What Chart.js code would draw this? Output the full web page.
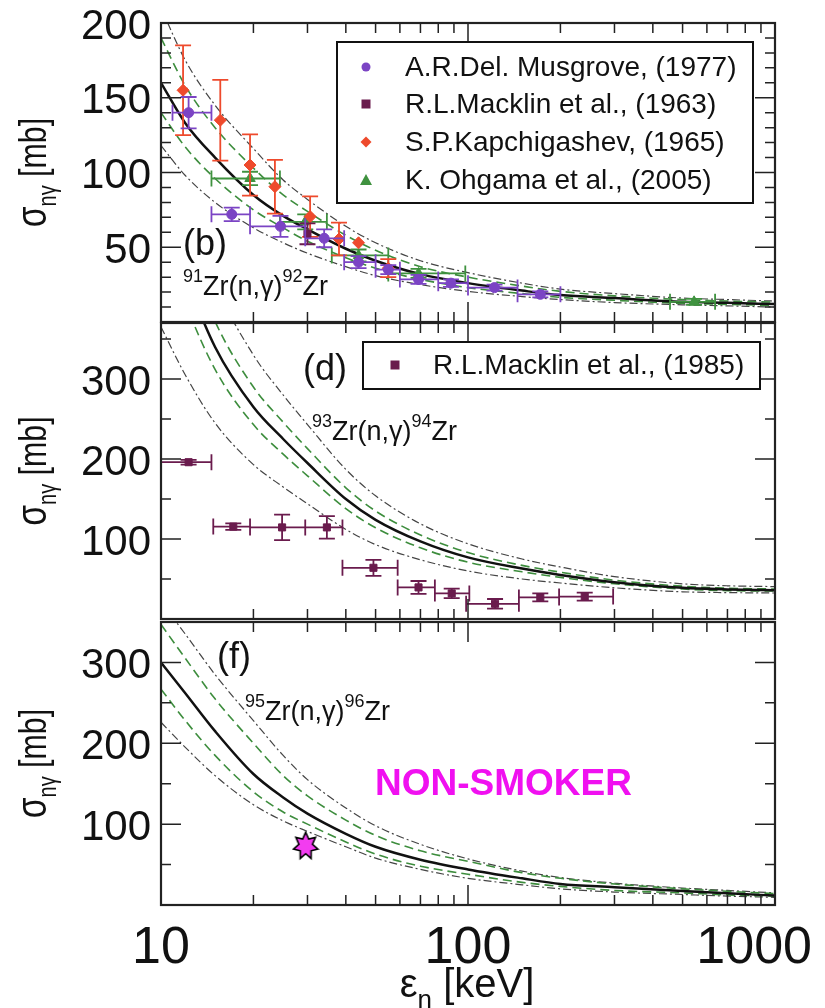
<!DOCTYPE html>
<html>
<head>
<meta charset="utf-8">
<script src="https://cdn.jsdelivr.net/npm/chart.js@4.4.0/dist/chart.umd.min.js"></script>
<style>
  body { margin: 0; background: #fff; width: 825px; height: 1008px; position: relative; overflow: hidden; }
  canvas { position: absolute; left: 0; }
</style>
</head>
<body>
<canvas id="panelB" width="825" height="330" style="top:0px"></canvas>
<canvas id="panelD" width="825" height="316" style="top:313px"></canvas>
<canvas id="panelF" width="825" height="399" style="top:609px"></canvas>
<script>
const FONT = "'Liberation Sans', Arial, Helvetica, sans-serif";

// shared energy grid for the model curves (keV)
const energies = [10, 12, 15, 20, 25, 30, 40, 50, 70, 100, 150, 200, 300, 500, 700, 1000];
const xMajorTicks = [10, 100, 1000];
const xMinorTicks = [20, 30, 40, 50, 60, 70, 80, 90, 200, 300, 400, 500, 600, 700, 800, 900];

// (b) 91Zr(n,g)92Zr model band
const zr91Mid     = [160, 133, 110, 85, 71, 62, 49, 41, 32, 26, 21, 18, 16, 13.5, 12.8, 12];
const zr91InnerHi = [190, 158, 130, 103, 85, 74, 58, 48, 37, 30, 24, 20.5, 17.5, 15, 14, 13.3];
const zr91InnerLo = [140, 117, 96, 75, 63, 54, 43, 36, 28.5, 23, 19, 16.5, 14.5, 12.5, 11.8, 11];
const zr91OuterHi = [210, 175, 145, 116, 95, 82, 64, 53, 41, 33, 26, 22, 19, 16, 15, 14];
const zr91OuterLo = [118, 98, 80, 63, 53, 46, 37, 31, 25, 20.5, 17, 15, 13, 11.5, 10.8, 10];
const zr91YMajor = [50, 100, 150, 200];
const zr91YMinor = [10, 20, 30, 40, 60, 70, 80, 90, 110, 120, 130, 140, 160, 170, 180, 190];

// (b) measurements
const musgroveE   = [12.3, 17, 24.5, 34, 44, 55, 69, 88, 122, 172];
const musgroveSig = [140, 72, 64, 56, 40, 35, 28.5, 26, 23, 18.5];
const musgroveELo = [10.9, 14.6, 19.5, 29.5, 39.5, 50, 60, 80, 100, 145];
const musgroveEHi = [14.6, 19.5, 29.5, 39.5, 50, 60, 80, 100, 145, 200];
const musgroveErr = [10.5, 4.5, 7, 6, 4, 3, 3, 2.5, 2, 2];

const macklin63E   = [30];
const macklin63Sig = [59];
const macklin63Err = [7];

const kapchE   = [11.8, 15.6, 19.5, 23.5, 30.6, 38, 44, 55];
const kapchSig = [155, 135, 105, 90.5, 70.5, 55.5, 53, 36];
const kapchErr = [30, 27, 20.5, 18, 13.5, 11, 0, 6];

const ohgamaE   = [19.5, 29.5, 44, 69, 545];
const ohgamaSig = [96, 67, 44.5, 32.5, 13.5];
const ohgamaELo = [14.6, 24.4, 36, 55, 455];
const ohgamaEHi = [24.4, 34.7, 55, 98, 638];
const ohgamaErr = [4.5, 5, 4, 3, 2];

// (d) 93Zr(n,g)94Zr model band
const zr93Mid     = [520, 430, 340, 265, 225, 195, 150, 124, 97, 77, 63, 55, 46, 39, 37, 36];
const zr93InnerHi = [570, 470, 372, 290, 246, 213, 164, 135, 105, 83, 67, 58.5, 48.5, 41, 38.5, 37.5];
const zr93InnerLo = [480, 395, 312, 243, 206, 179, 138, 114, 89, 71, 59, 52, 44, 37.5, 35.5, 35];
const zr93OuterHi = [640, 530, 420, 330, 280, 243, 187, 154, 119, 94, 75, 65, 53, 44, 41.5, 40.5];
const zr93OuterLo = [365, 305, 245, 193, 165, 144, 112, 93, 74, 60, 50, 45, 39, 34, 33, 32.5];
const bigYMajor = [100, 200, 300];
const bigYMinor = [50, 150, 250, 350];

const macklin85E   = [12.3, 17.2, 24.8, 34.7, 49.2, 69, 88.5, 122.5, 172, 240];
const macklin85Sig = [196, 115.5, 114.5, 114.5, 64, 39.5, 32, 19, 27, 28];
const macklin85ELo = [9, 14.8, 19.5, 29.5, 39, 59, 78, 98.6, 146.5, 198];
const macklin85EHi = [14.6, 19.5, 29.5, 39, 59, 78, 101, 146.5, 198, 297];
const macklin85Err = [3, 4, 16, 14, 10, 8, 6, 6, 5, 5];

// (f) 95Zr(n,g)96Zr model band
const zr95Mid     = [300, 262, 215, 162, 133, 113, 88, 72, 56, 44, 33, 26, 22, 17.3, 14.5, 11.6];
const zr95InnerHi = [347, 305, 255, 200, 160, 135, 105, 86, 67, 54, 40, 33, 26, 20, 17, 14];
const zr95InnerLo = [267, 228, 185, 140, 115, 100, 78, 63, 48, 38, 28, 23, 18, 15, 12.5, 11];
const zr95OuterHi = [375, 335, 285, 228, 185, 155, 120, 98, 75, 57, 42, 34, 27, 21, 18, 15];
const zr95OuterLo = [226, 195, 160, 124, 104, 91, 72, 58, 44, 33, 25, 20, 16, 13, 11, 9.5];

const nonSmokerE   = [29.6];
const nonSmokerSig = [73];

const PURPLE = '#7b44c4';
const MAROON = '#6a1b4d';
const RED = '#ee4a2c';
const GREEN = '#3f923f';

function curve(label, values, kind) {
  const base = {
    label: label,
    data: energies.map((e, i) => ({ x: e, y: values[i] })),
    showLine: true,
    pointRadius: 0,
    cubicInterpolationMode: 'monotone',
    fill: false
  };
  if (kind === 'mid') return { ...base, borderColor: '#111', borderWidth: 2.5 };
  if (kind === 'inner') return { ...base, borderColor: '#3d8d3d', borderWidth: 1.6, borderDash: [9, 5] };
  return { ...base, borderColor: '#444', borderWidth: 1.2, borderDash: [8, 3, 2, 3] };
}

function points(label, xs, ys, style, color, radius, extra) {
  return {
    label: label,
    data: xs.map((x, i) => ({ x: x, y: ys[i] })),
    showLine: false,
    pointStyle: style,
    pointRadius: radius,
    backgroundColor: color,
    borderColor: color,
    borderWidth: 1,
    ...extra
  };
}

function drawErrorBars(chart, ds) {
  const { ctx, chartArea: a, scales: { x, y } } = chart;
  ctx.save();
  ctx.beginPath();
  ctx.rect(a.left, a.top, a.right - a.left, a.bottom - a.top);
  ctx.clip();
  ctx.strokeStyle = ds.borderColor;
  ctx.lineWidth = 1.8;
  ctx.beginPath();
  ds.data.forEach((p, i) => {
    const px = x.getPixelForValue(p.x);
    const py = y.getPixelForValue(p.y);
    if (ds.yErr && ds.yErr[i]) {
      const t = y.getPixelForValue(p.y + ds.yErr[i]);
      const b = y.getPixelForValue(p.y - ds.yErr[i]);
      ctx.moveTo(px, t); ctx.lineTo(px, b);
      ctx.moveTo(px - 8, t); ctx.lineTo(px + 8, t);
      ctx.moveTo(px - 8, b); ctx.lineTo(px + 8, b);
    }
    if (ds.xLo) {
      const l = x.getPixelForValue(ds.xLo[i]);
      const r = x.getPixelForValue(ds.xHi[i]);
      ctx.moveTo(l, py); ctx.lineTo(r, py);
      ctx.moveTo(l, py - 8); ctx.lineTo(l, py + 8);
      ctx.moveTo(r, py - 8); ctx.lineTo(r, py + 8);
    }
  });
  ctx.stroke();
  ctx.restore();
}

function drawFrame(chart, yMajor, yMinor) {
  const { ctx, chartArea: a, scales: { x, y } } = chart;
  ctx.save();
  ctx.strokeStyle = '#222';
  ctx.lineWidth = 1.5;
  ctx.beginPath();
  const xt = (v, len) => {
    const px = x.getPixelForValue(v);
    ctx.moveTo(px, a.bottom); ctx.lineTo(px, a.bottom - len);
    ctx.moveTo(px, a.top); ctx.lineTo(px, a.top + len);
  };
  const yt = (v, len) => {
    const py = y.getPixelForValue(v);
    ctx.moveTo(a.left, py); ctx.lineTo(a.left + len, py);
    ctx.moveTo(a.right, py); ctx.lineTo(a.right - len, py);
  };
  xMajorTicks.forEach(v => xt(v, 20));
  xMinorTicks.forEach(v => xt(v, 10));
  yMajor.forEach(v => yt(v, 20));
  yMinor.forEach(v => yt(v, 10));
  ctx.stroke();
  ctx.lineWidth = 2.2;
  ctx.strokeRect(a.left, a.top, a.right - a.left, a.bottom - a.top);
  ctx.restore();
}

// x tick labels: centred on the tick, the last one kept inside the page
function drawXLabels(chart, baseline) {
  const { ctx, scales: { x } } = chart;
  ctx.save();
  ctx.font = '52px ' + FONT;
  ctx.fillStyle = '#111';
  ctx.textAlign = 'left';
  ctx.textBaseline = 'alphabetic';
  xMajorTicks.forEach(v => {
    const label = String(v);
    const w = ctx.measureText(label).width;
    const left = Math.min(x.getPixelForValue(v) - w / 2, 812 - w);
    ctx.fillText(label, left, baseline);
  });
  ctx.restore();
}

// parts: [{t, size, dy, bold}] drawn left to right from (x, y) baseline
function drawRich(ctx, parts, x, y, color, align) {
  let w = 0;
  parts.forEach(p => {
    ctx.font = (p.bold ? 'bold ' : '') + p.size + 'px ' + FONT;
    w += ctx.measureText(p.t).width;
  });
  let cx = align === 'center' ? x - w / 2 : x;
  ctx.fillStyle = color || '#111';
  ctx.textBaseline = 'alphabetic';
  ctx.textAlign = 'left';
  parts.forEach(p => {
    ctx.font = (p.bold ? 'bold ' : '') + p.size + 'px ' + FONT;
    ctx.fillText(p.t, cx, y + (p.dy || 0));
    cx += ctx.measureText(p.t).width;
  });
}

function drawYTitle(chart) {
  const { ctx, chartArea: a } = chart;
  ctx.save();
  ctx.translate(46, (a.top + a.bottom) / 2);
  ctx.rotate(-Math.PI / 2);
  ctx.scale(0.8, 1);
  drawRich(ctx, [
    { t: 'σ', size: 42 },
    { t: 'nγ', size: 25, dy: 10 },
    { t: ' [mb]', size: 38 }
  ], 0, 0, '#111', 'center');
  ctx.restore();
}

function drawMarker(ctx, style, x, y, color) {
  ctx.fillStyle = color;
  ctx.beginPath();
  if (style === 'circle') {
    ctx.arc(x, y, 4.5, 0, 2 * Math.PI);
  } else if (style === 'rect') {
    ctx.rect(x - 4.5, y - 4.5, 9, 9);
  } else if (style === 'rectRot') {
    ctx.moveTo(x, y - 5.5); ctx.lineTo(x + 5.5, y); ctx.lineTo(x, y + 5.5); ctx.lineTo(x - 5.5, y);
  } else {
    ctx.moveTo(x, y - 6); ctx.lineTo(x + 6, y + 5); ctx.lineTo(x - 6, y + 5);
  }
  ctx.closePath();
  ctx.fill();
}

function drawLegend(chart, lg) {
  const ctx = chart.ctx;
  ctx.save();
  ctx.fillStyle = '#fff';
  ctx.fillRect(lg.box[0], lg.box[1], lg.box[2] - lg.box[0], lg.box[3] - lg.box[1]);
  ctx.strokeStyle = '#111';
  ctx.lineWidth = 2;
  ctx.strokeRect(lg.box[0], lg.box[1], lg.box[2] - lg.box[0], lg.box[3] - lg.box[1]);
  lg.items.forEach((it, i) => {
    const yy = lg.rowY[i];
    drawMarker(ctx, it.style, lg.markerX, yy, it.color);
    ctx.font = '28px ' + FONT;
    ctx.fillStyle = '#111';
    ctx.textAlign = 'left';
    ctx.textBaseline = 'middle';
    ctx.fillText(it.text, lg.textX, yy + 1);
  });
  ctx.restore();
}

function decorPlugin(cfg) {
  return {
    id: 'panelDecor',
    beforeDatasetDraw(chart, args) {
      const ds = chart.data.datasets[args.index];
      if (ds.yErr || ds.xLo) drawErrorBars(chart, ds);
    },
    afterDraw(chart) {
      const ctx = chart.ctx;
      drawFrame(chart, cfg.yMajor, cfg.yMinor);
      drawYTitle(chart);
      if (cfg.legend) drawLegend(chart, cfg.legend);
      ctx.save();
      cfg.texts.forEach(tx => drawRich(ctx, tx.parts, tx.x, tx.y, tx.color));
      if (cfg.xTitle) {
        drawXLabels(chart, cfg.xLabels);
        drawRich(ctx, [
          { t: 'ε', size: 40 },
          { t: 'n', size: 26, dy: 11 },
          { t: ' [keV]', size: 40 }
        ], 467, cfg.xTitle, '#111', 'center');
      }
      ctx.restore();
    }
  };
}

function isoLabel(a, b, x, y) {
  return {
    x: x, y: y, parts: [
      { t: a, size: 18, dy: -13 },
      { t: 'Zr(n,γ)', size: 27 },
      { t: b, size: 18, dy: -13 },
      { t: 'Zr', size: 27 }
    ]
  };
}

function options(yMin, yMax, yTicks, showX, padding) {
  const xScale = {
    type: 'logarithmic',
    min: 10,
    max: 1000,
    display: showX,
    afterBuildTicks: s => { s.ticks = xMajorTicks.map(v => ({ value: v })); },
    ticks: { display: false },
    grid: { display: false, drawTicks: false },
    border: { display: false }
  };
  if (showX) {
    xScale.afterFit = s => { s.height = 103; s.paddingLeft = 0; s.paddingRight = 0; };
  }
  return {
    responsive: false,
    maintainAspectRatio: false,
    animation: false,
    layout: { padding: padding },
    plugins: { legend: { display: false }, tooltip: { enabled: false } },
    scales: {
      x: xScale,
      y: {
        type: 'linear',
        min: yMin,
        max: yMax,
        afterBuildTicks: s => { s.ticks = yTicks.map(v => ({ value: v })); },
        afterFit: s => { s.width = 161; s.paddingTop = 0; s.paddingBottom = 0; },
        ticks: { callback: v => String(v), color: '#111', font: { family: FONT, size: 42 }, padding: 10, labelOffset: 4 },
        grid: { display: false, drawTicks: false },
        border: { display: false }
      }
    }
  };
}

function makeStar() {
  const c = document.createElement('canvas');
  c.width = 28; c.height = 30;
  const g = c.getContext('2d');
  g.beginPath();
  for (let k = 0; k < 14; k++) {
    const r = k % 2 ? 7 : 12.5;
    const ang = -Math.PI / 2 + k * Math.PI / 7;
    g.lineTo(14 + r * Math.cos(ang), 15 + r * Math.sin(ang) * 1.1);
  }
  g.closePath();
  g.fillStyle = '#f23cf0';
  g.fill();
  g.lineWidth = 1.6;
  g.strokeStyle = '#000';
  g.stroke();
  return c;
}

// panel (b)
new Chart(document.getElementById('panelB'), {
  type: 'scatter',
  data: {
    datasets: [
      points('A.R.Del. Musgrove, (1977)', musgroveE, musgroveSig, 'circle', PURPLE, 5,
        { xLo: musgroveELo, xHi: musgroveEHi, yErr: musgroveErr }),
      points('R.L.Macklin et al., (1963)', macklin63E, macklin63Sig, 'rect', MAROON, 5, { yErr: macklin63Err }),
      points('S.P.Kapchigashev, (1965)', kapchE, kapchSig, 'rectRot', RED, 6, { yErr: kapchErr }),
      points('K. Ohgama et al., (2005)', ohgamaE, ohgamaSig, 'triangle', GREEN, 6,
        { xLo: ohgamaELo, xHi: ohgamaEHi, yErr: ohgamaErr }),
      curve('mid', zr91Mid, 'mid'),
      curve('inner hi', zr91InnerHi, 'inner'),
      curve('inner lo', zr91InnerLo, 'inner'),
      curve('outer hi', zr91OuterHi, 'outer'),
      curve('outer lo', zr91OuterLo, 'outer')
    ]
  },
  options: options(0, 200, zr91YMajor, false, { top: 23, bottom: 8, left: 0, right: 50 }),
  plugins: [decorPlugin({
    yMajor: zr91YMajor,
    yMinor: zr91YMinor,
    legend: {
      box: [337, 42, 753, 203],
      markerX: 366,
      textX: 405,
      rowY: [67, 104, 142, 180],
      items: [
        { style: 'circle', color: PURPLE, text: 'A.R.Del. Musgrove, (1977)' },
        { style: 'rect', color: MAROON, text: 'R.L.Macklin et al., (1963)' },
        { style: 'rectRot', color: RED, text: 'S.P.Kapchigashev, (1965)' },
        { style: 'triangle', color: GREEN, text: 'K. Ohgama et al., (2005)' }
      ]
    },
    texts: [
      { x: 183, y: 255, parts: [{ t: '(b)', size: 36 }] },
      isoLabel('91', '92', 183, 295)
    ]
  })]
});

// panel (d)
new Chart(document.getElementById('panelD'), {
  type: 'scatter',
  data: {
    datasets: [
      points('R.L.Macklin et al., (1985)', macklin85E, macklin85Sig, 'rect', MAROON, 5,
        { xLo: macklin85ELo, xHi: macklin85EHi, yErr: macklin85Err }),
      curve('mid', zr93Mid, 'mid'),
      curve('inner hi', zr93InnerHi, 'inner'),
      curve('inner lo', zr93InnerLo, 'inner'),
      curve('outer hi', zr93OuterHi, 'outer'),
      curve('outer lo', zr93OuterLo, 'outer')
    ]
  },
  options: options(0, 370, bigYMajor, false, { top: 10, bottom: 10, left: 0, right: 50 }),
  plugins: [decorPlugin({
    yMajor: bigYMajor,
    yMinor: bigYMinor,
    legend: {
      box: [363, 29, 760, 76],
      markerX: 395,
      textX: 433,
      rowY: [52],
      items: [{ style: 'rect', color: MAROON, text: 'R.L.Macklin et al., (1985)' }]
    },
    texts: [
      { x: 303, y: 67, parts: [{ t: '(d)', size: 36 }] },
      isoLabel('93', '94', 312, 127)
    ]
  })]
});

// panel (f)
new Chart(document.getElementById('panelF'), {
  type: 'scatter',
  data: {
    datasets: [
      points('NON-SMOKER', nonSmokerE, nonSmokerSig, makeStar(), '#f23cf0', 12),
      curve('mid', zr95Mid, 'mid'),
      curve('inner hi', zr95InnerHi, 'inner'),
      curve('inner lo', zr95InnerLo, 'inner'),
      curve('outer hi', zr95OuterHi, 'outer'),
      curve('outer lo', zr95OuterLo, 'outer')
    ]
  },
  options: options(0, 350, bigYMajor, true, { top: 10, bottom: 0, left: 0, right: 50 }),
  plugins: [decorPlugin({
    yMajor: bigYMajor,
    yMinor: bigYMinor,
    xLabels: 354,
    xTitle: 388,
    texts: [
      { x: 217, y: 59, parts: [{ t: '(f)', size: 36 }] },
      isoLabel('95', '96', 245, 111),
      { x: 375, y: 186, color: '#f010f0', parts: [{ t: 'NON-SMOKER', size: 37, bold: true }] }
    ]
  })]
});
</script>
</body>
</html>
